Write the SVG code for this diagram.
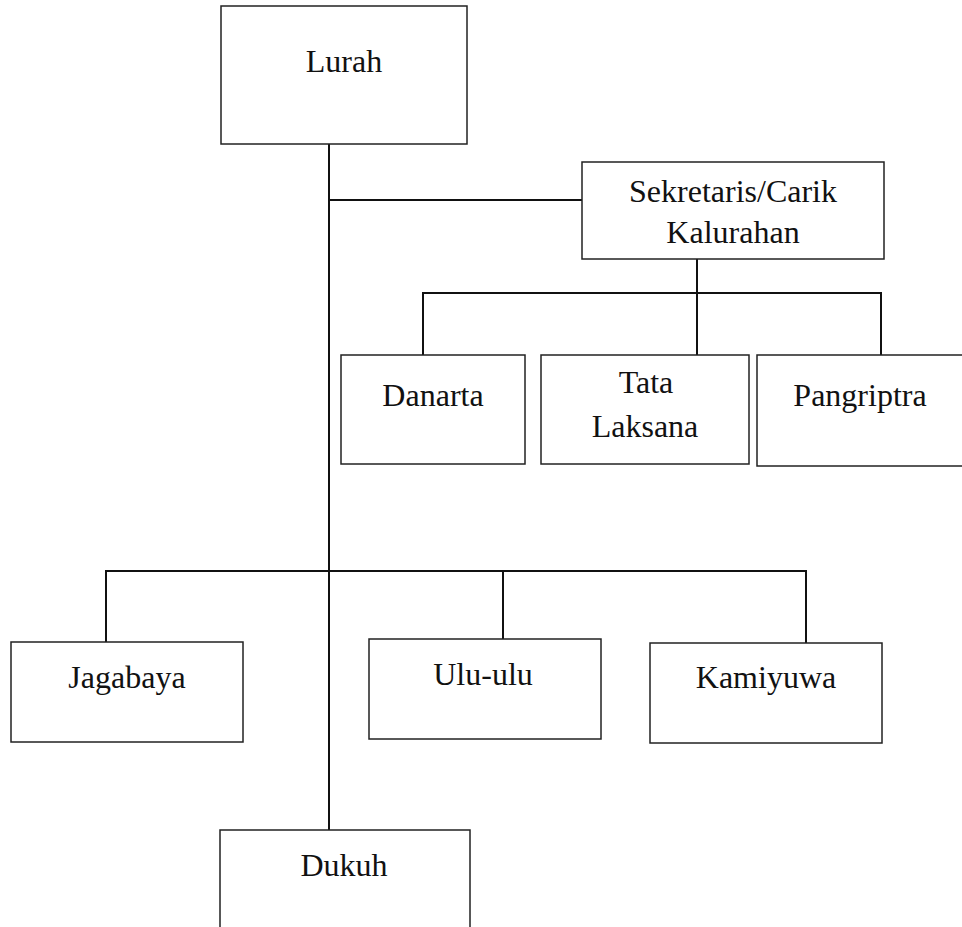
<svg xmlns="http://www.w3.org/2000/svg" width="962" height="927" viewBox="0 0 962 927">
<style>
.box{fill:#fff;stroke:#222;stroke-width:1.5}
.t{font-family:"Liberation Serif","Times New Roman",serif;font-size:32px;fill:#111;text-anchor:middle}
.c{fill:none;stroke:#111;stroke-width:2}
</style>
<rect width="962" height="927" fill="#fff"/>
<g id="connectors">
<line class="c" x1="329" y1="144" x2="329" y2="830"/>
<line class="c" x1="329" y1="200" x2="582" y2="200"/>
<line class="c" x1="697" y1="259" x2="697" y2="355"/>
<polyline class="c" points="423,355 423,293 882,293"/>
<line class="c" x1="881" y1="293" x2="881" y2="355"/>
<polyline class="c" points="106,642 106,571 806,571 806,643"/>
<line class="c" x1="503" y1="571" x2="503" y2="639"/>
</g>
<g id="lurah">
<rect class="box" x="221" y="6" width="246" height="138"/>
<text class="t" x="344" y="72">Lurah</text>
</g>
<g id="sekretaris">
<rect class="box" x="582" y="162" width="302" height="97"/>
<text class="t" x="733" y="202">Sekretaris/Carik</text>
<text class="t" x="733" y="243">Kalurahan</text>
</g>
<g id="danarta">
<rect class="box" x="341" y="355" width="184" height="109"/>
<text class="t" x="433" y="406">Danarta</text>
</g>
<g id="tatalaksana">
<rect class="box" x="541" y="355" width="208" height="109"/>
<text class="t" x="646" y="393">Tata</text>
<text class="t" x="645" y="437">Laksana</text>
</g>
<g id="pangriptra">
<rect class="box" x="757" y="355" width="215" height="111"/>
<text class="t" x="860" y="406">Pangriptra</text>
</g>
<g id="jagabaya">
<rect class="box" x="11" y="642" width="232" height="100"/>
<text class="t" x="127" y="688">Jagabaya</text>
</g>
<g id="uluulu">
<rect class="box" x="369" y="639" width="232" height="100"/>
<text class="t" x="483" y="685">Ulu-ulu</text>
</g>
<g id="kamiyuwa">
<rect class="box" x="650" y="643" width="232" height="100"/>
<text class="t" x="766" y="688">Kamiyuwa</text>
</g>
<g id="dukuh">
<rect class="box" x="220" y="830" width="250" height="120"/>
<text class="t" x="344" y="876">Dukuh</text>
</g>
</svg>
